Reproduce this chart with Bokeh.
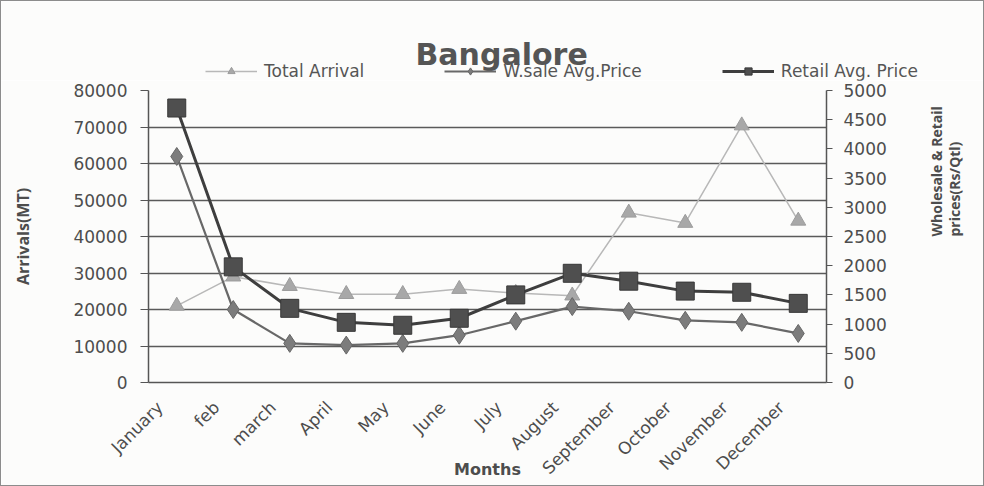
import math
from bokeh.plotting import figure
from bokeh.layouts import column
from bokeh.models import (Range1d, LinearAxis, SingleIntervalTicker, FixedTicker,
                          Legend, LegendItem, Label)
from bokeh.embed import file_html
from bokeh.resources import INLINE

months = ["January", "feb", "march", "April", "May", "June", "July",
          "August", "September", "October", "November", "December"]
total_arrival = [21000, 29000, 26400, 24200, 24200, 25600, 24500, 23800, 46500, 43700, 70400, 44300]
wholesale_price = [3870, 1250, 670, 640, 670, 810, 1050, 1300, 1220, 1065, 1030, 840]
retail_price = [4700, 1980, 1270, 1030, 980, 1100, 1500, 1870, 1735, 1565, 1545, 1355]
series_names = ["Total Arrival", "W.sale Avg.Price", "Retail Avg. Price"]

# category positions (centre of each month slot) and tick-label anchors
xpos = [i + 0.5 for i in range(len(months))]
label_pos = [i + 0.2 for i in range(len(months))]

BG = "#fcfcfb"
TXT = "#4d4d4d"
BORDER = "1px solid #8c8c8c"

STY = {
    "ta_line": dict(line_color="#b8b8b8", line_width=1.5),
    "ta_pts": dict(marker="triangle", size=15, fill_color="#a8a8a8", line_color="#9c9c9c"),
    "ws_line": dict(line_color="#686868", line_width=2.2),
    "ws_pts": dict(marker="diamond", size=18, fill_color="#7c7c7c", line_color="#666666"),
    "rt_line": dict(line_color="#3e3e3e", line_width=3),
    "rt_pts": dict(marker="square", size=18, fill_color="#4f4f4f", line_color="#383838"),
}

# ---------------- header: title + legend ----------------
HW, HH = 984, 80
h = figure(width=HW, height=HH, x_range=Range1d(0, HW - 2), y_range=Range1d(0, HH - 1),
           title=None, output_backend="svg", toolbar_location=None,
           x_axis_type=None, y_axis_type=None,
           min_border=0, min_border_left=0, min_border_right=0, min_border_top=0, min_border_bottom=0)
if "frame_align" in h.properties():
    h.frame_align = False
h.styles = {"border-top": BORDER, "border-left": BORDER, "border-right": BORDER}
h.background_fill_color = BG
h.border_fill_color = BG
h.outline_line_color = None
h.xgrid.visible = False
h.ygrid.visible = False

h.add_layout(Label(x=414, y=27, x_units="screen", y_units="screen", text="Bangalore",
                   text_font="DejaVu Sans", text_font_style="bold",
                   text_font_size="30px", text_color="#555555", text_baseline="alphabetic"))

# legend renderers (same series; they fall outside this header's ranges, only the legend shows)
lg = []
for (ln, pt), yv in zip((("ta_line", "ta_pts"), ("ws_line", "ws_pts"), ("rt_line", "rt_pts")),
                        (total_arrival, wholesale_price, retail_price)):
    rl = h.line(xpos, yv, **STY[ln])
    rp = h.scatter(xpos, yv, **STY[pt])
    lg.append([rl, rp])
legend = Legend(items=[LegendItem(label=n, renderers=r) for n, r in zip(series_names, lg)],
                orientation="horizontal", location=(204, 0), spacing=80,
                glyph_width=52, glyph_height=18, label_height=16, label_standoff=7,
                padding=0, margin=0, background_fill_alpha=0, border_line_color=None,
                label_text_font="DejaVu Sans", label_text_font_size="17px",
                label_text_color="#555555")
h.add_layout(legend, "center")

# ---------------- main chart ----------------
p = figure(width=984, height=486 - HH, x_range=Range1d(0, len(months)), y_range=Range1d(0, 80000),
           output_backend="svg", toolbar_location=None,
           min_border_left=147, min_border_right=153, min_border_top=90 - HH, min_border_bottom=104)
if "frame_align" in p.properties():
    p.frame_align = False
p.styles = {"border-bottom": BORDER, "border-left": BORDER, "border-right": BORDER}
p.background_fill_color = BG
p.border_fill_color = BG
p.outline_line_color = None

p.extra_y_ranges = {"price": Range1d(0, 5000)}

p.line(xpos, total_arrival, **STY["ta_line"])
p.scatter(xpos, total_arrival, **STY["ta_pts"])
p.line(xpos, wholesale_price, y_range_name="price", **STY["ws_line"])
p.scatter(xpos, wholesale_price, y_range_name="price", **STY["ws_pts"])
p.line(xpos, retail_price, y_range_name="price", **STY["rt_line"])
p.scatter(xpos, retail_price, y_range_name="price", **STY["rt_pts"])

# grid
p.xgrid.visible = False
p.ygrid.grid_line_color = "#5a5a5a"
p.ygrid.grid_line_width = 1.5

# left axis
ya = p.yaxis[0]
ya.ticker = SingleIntervalTicker(interval=10000, num_minor_ticks=0)
ya.axis_label = "Arrivals(MT)"
ya.axis_label_text_font = "Open Sans"
ya.axis_label_text_font_style = "bold"
ya.axis_label_text_font_size = "16px"
ya.axis_label_text_color = TXT
ya.axis_label_standoff = 36
ya.major_label_text_font = "DejaVu Sans"
ya.major_label_text_font_size = "17px"
ya.major_label_text_color = TXT
ya.major_label_standoff = 13
ya.major_tick_out = 8
ya.major_tick_in = 0
ya.minor_tick_line_color = None
ya.axis_line_color = "#555555"
ya.axis_line_width = 1.5
ya.major_tick_line_color = "#555555"

# right axis
ra = LinearAxis(y_range_name="price",
                ticker=SingleIntervalTicker(interval=500, num_minor_ticks=0))
ra.axis_label = "Wholesale & Retail\nprices(Rs/Qtl)"
ra.axis_label_orientation = math.pi / 2
ra.axis_label_text_font = "Open Sans"
ra.axis_label_text_font_style = "bold"
ra.axis_label_text_font_size = "14px"
ra.axis_label_text_line_height = 0.95
ra.axis_label_text_color = TXT
ra.axis_label_standoff = 56
ra.major_label_text_font = "DejaVu Sans"
ra.major_label_text_font_size = "17px"
ra.major_label_text_color = TXT
ra.major_label_standoff = 11
ra.major_tick_out = 6
ra.major_tick_in = 0
ra.minor_tick_line_color = None
ra.axis_line_color = "#555555"
ra.axis_line_width = 1.5
ra.major_tick_line_color = "#555555"
p.add_layout(ra, "right")

# bottom axis
xa = p.xaxis[0]
xa.ticker = FixedTicker(ticks=label_pos)
xa.major_label_overrides = {t: m for t, m in zip(label_pos, months)}
xa.major_label_orientation = math.pi / 4
xa.major_label_text_font = "DejaVu Sans"
xa.major_label_text_font_size = "17px"
xa.major_label_text_color = TXT
xa.major_label_standoff = 16
xa.major_tick_line_color = None
xa.minor_tick_line_color = None
xa.axis_line_color = "#555555"
xa.axis_line_width = 1.5
xa.axis_label = "Months"
xa.axis_label_text_font = "DejaVu Sans"
xa.axis_label_text_font_style = "bold"
xa.axis_label_text_font_size = "16px"
xa.axis_label_text_color = TXT
xa.axis_label_standoff = -28

layout = column(h, p, spacing=0)
open("out.html", "w").write(file_html(layout, INLINE))
